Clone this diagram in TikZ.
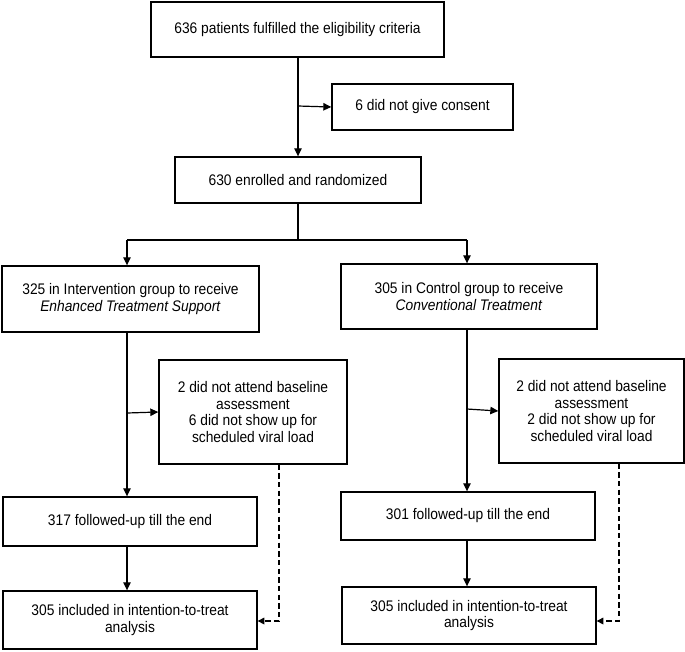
\documentclass[tikz,border=0pt]{standalone}
\usepackage{fontspec}
\setmainfont{Liberation Sans}[FakeStretch=0.9]
\usetikzlibrary{arrows.meta}
\begin{document}
\begin{tikzpicture}[x=0.75pt,y=-0.75pt,
  box/.style 2 args={draw, line width=1pt, inner sep=0pt, align=center,
    minimum width=#1*0.75pt, minimum height=#2*0.75pt,
    font=\fontsize{11.5pt}{12.3pt}\selectfont},
  conn/.style={line width=0.9pt, -{Triangle[length=6pt,width=5.5pt]}},
  plain/.style={line width=0.9pt},
  dconn/.style={line width=0.9pt, dash pattern=on 4pt off 2.5pt, -{Triangle[length=5pt,width=5pt]}}]
\useasboundingbox (0,0) rectangle (685,651);

\node[box={293}{55}] (b1) at (297.5,29.5) {636 patients fulfilled the eligibility criteria};
\node[box={181}{46}] (cons) at (422.5,107) {6 did not give consent};
\node[box={246}{46}] (b2) at (298,180) {630 enrolled and randomized};
\node[box={257}{66}] (L3) at (130.5,299) {325 in Intervention group to receive\\\textit{Enhanced Treatment Support}};
\node[box={256}{65}] (R3) at (469,296.5) {305 in Control group to receive\\\textit{Conventional Treatment}};
\node[box={188}{104}] (L4) at (253,412) {2 did not attend baseline\\assessment\\6 did not show up for\\scheduled viral load};
\node[box={185}{104}] (R4) at (591.5,411) {2 did not attend baseline\\assessment\\2 did not show up for\\scheduled viral load};
\node[box={254}{49}] (L5) at (130,521.5) {317 followed-up till the end};
\node[box={254}{48}] (R5) at (468,516) {301 followed-up till the end};
\node[box={254}{58}] (L6) at (130,620) {305 included in intention-to-treat\\analysis};
\node[box={254}{57}] (R6) at (469,615.5) {305 included in intention-to-treat\\analysis};

% top trunk
\coordinate (t1) at (298,106);
\draw[conn] (b1.south -| t1) -- (b2.north -| t1);
\draw[conn] (t1) -- (cons.west);

% randomisation split
\coordinate (sl) at (127,240);
\coordinate (sr) at (467,240);
\draw[plain] (b2.south) -- (b2.south |- sl);
\draw[plain] (sl) -- (sr);
\draw[conn] (sl) -- (sl |- L3.north);
\draw[conn] (sr) -- (sr |- R3.north);

% left arm
\coordinate (lb) at (127,413);
\draw[conn] (L3.south -| lb) -- (L5.north -| lb);
\draw[conn] (lb) -- (L4.west);
\draw[conn] (L5.south -| lb) -- (L6.north -| lb);
\coordinate (ld) at (279,621);
\draw[dconn] (L4.south -| ld) -- (ld) -- (ld -| L6.east);

% right arm
\coordinate (rb) at (467,409);
\draw[conn] (R3.south -| rb) -- (R5.north -| rb);
\draw[conn] (rb) -- (R4.west);
\draw[conn] (R5.south -| rb) -- (R6.north -| rb);
\coordinate (rd) at (619,621);
\draw[dconn] (R4.south -| rd) -- (rd) -- (rd -| R6.east);
\end{tikzpicture}
\end{document}
